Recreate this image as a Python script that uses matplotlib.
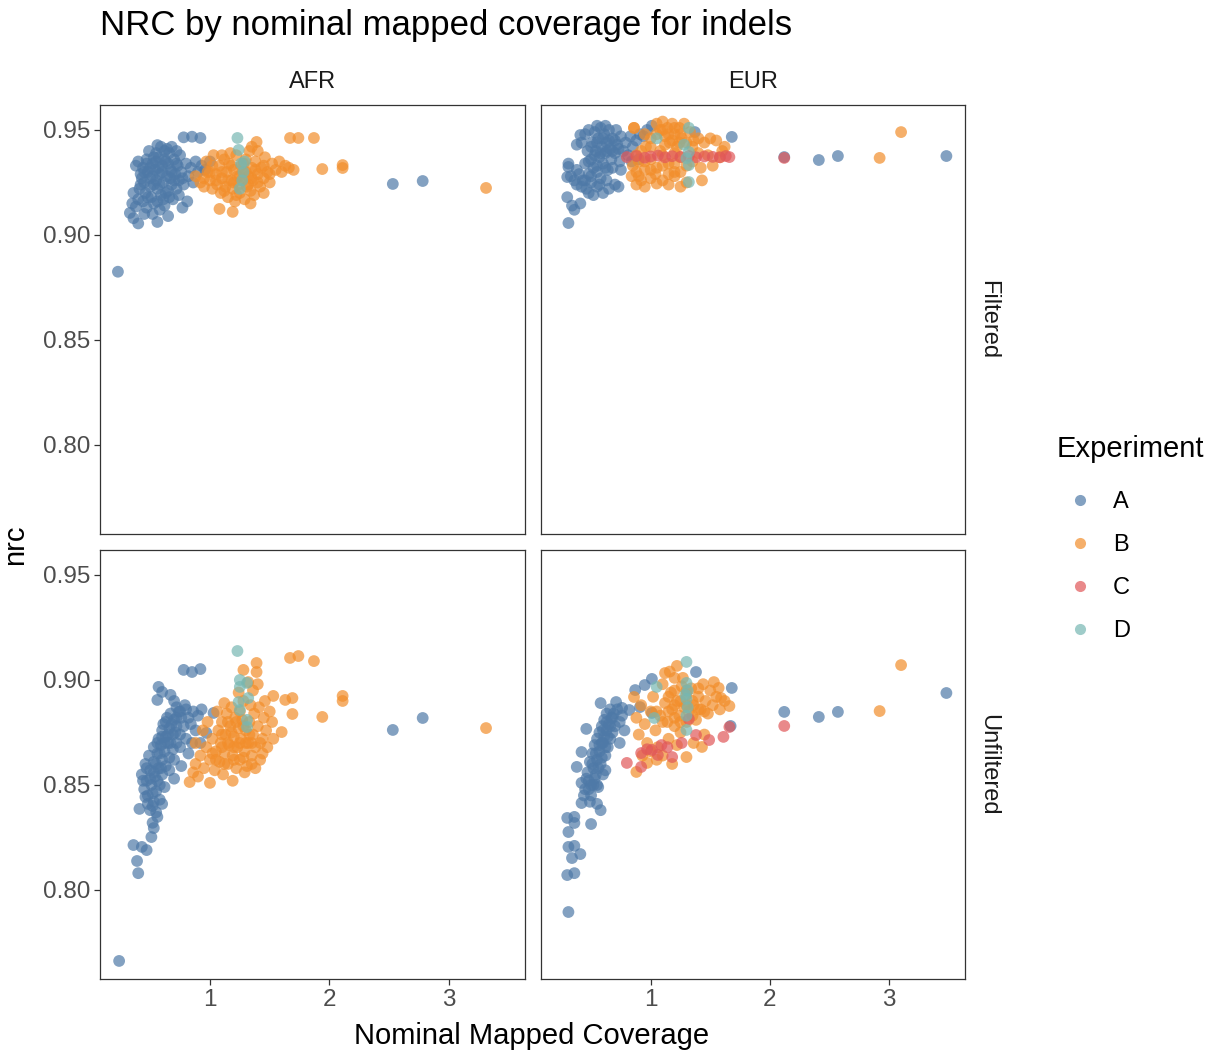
import matplotlib
matplotlib.use("Agg")
import matplotlib.pyplot as plt
from matplotlib.lines import Line2D
import numpy as np

plt.rcParams['font.family'] = ['Liberation Sans', 'DejaVu Sans']

experiments = ["A", "B", "C", "D"]
colors = {"A": "#4E79A7", "B": "#F28E2B", "C": "#E15759", "D": "#76B7B2"}
populations = ["AFR", "EUR"]
filters = ["Filtered", "Unfiltered"]

# (coverage, nrc), per panel and experiment
afr_filt_A = [
    (0.23, 0.8825), (0.33, 0.9105), (0.36, 0.9080), (0.40, 0.9055), (0.38, 0.9135),
    (0.45, 0.9100), (0.56, 0.9062), (0.65, 0.9090), (0.81, 0.9160), (0.78, 0.9465),
    (0.85, 0.9468), (0.92, 0.9462), (0.56, 0.9428), (0.59, 0.9420), (0.64, 0.9410),
    (2.53, 0.9243), (2.78, 0.9257),
    (0.38, 0.9330), (0.40, 0.9350), (0.42, 0.9290), (0.44, 0.9320), (0.45, 0.9250),
    (0.46, 0.9200), (0.47, 0.9360), (0.48, 0.9300), (0.50, 0.9230), (0.50, 0.9270),
    (0.51, 0.9180), (0.52, 0.9340), (0.53, 0.9150), (0.54, 0.9310), (0.55, 0.9260),
    (0.56, 0.9220), (0.57, 0.9370), (0.58, 0.9290), (0.59, 0.9190), (0.60, 0.9330),
    (0.61, 0.9250), (0.62, 0.9140), (0.63, 0.9350), (0.64, 0.9280), (0.65, 0.9210),
    (0.66, 0.9390), (0.67, 0.9310), (0.68, 0.9240), (0.69, 0.9170), (0.70, 0.9360),
    (0.71, 0.9290), (0.72, 0.9220), (0.73, 0.9330), (0.74, 0.9260), (0.75, 0.9380),
    (0.76, 0.9300), (0.78, 0.9240), (0.80, 0.9340), (0.82, 0.9280), (0.84, 0.9320),
    (0.86, 0.9250), (0.88, 0.9350), (0.90, 0.9300), (0.93, 0.9330), (0.96, 0.9310),
    (1.00, 0.9350), (0.47, 0.9130), (0.52, 0.9100), (0.58, 0.9120), (0.44, 0.9160),
    (0.41, 0.9220), (0.43, 0.9270), (0.49, 0.9400), (0.55, 0.9390), (0.62, 0.9400),
    (0.68, 0.9420), (0.72, 0.9400), (0.66, 0.9180), (0.74, 0.9190), (0.77, 0.9130),
    (0.45, 0.9300), (0.50, 0.9320), (0.55, 0.9350), (0.60, 0.9300), (0.65, 0.9340),
    (0.70, 0.9260), (0.53, 0.9240), (0.58, 0.9240), (0.63, 0.9200), (0.68, 0.9300),
    (0.48, 0.9180), (0.56, 0.9160), (0.61, 0.9170), (0.42, 0.9240), (0.40, 0.9170),
    (0.36, 0.9200), (0.35, 0.9150), (0.52, 0.9280), (0.57, 0.9320), (0.62, 0.9360),
    (0.67, 0.9270), (0.72, 0.9340), (0.77, 0.9270), (0.47, 0.9340), (0.53, 0.9370),
]
afr_filt_B = [
    (1.67, 0.9462), (1.74, 0.9462), (1.87, 0.9462), (1.94, 0.9314), (2.11, 0.9333),
    (2.11, 0.9319), (3.31, 0.9224), (1.08, 0.9124), (1.19, 0.9110), (1.39, 0.9443),
    (1.34, 0.9150),
    (0.88, 0.9280), (0.92, 0.9250), (0.95, 0.9230), (0.98, 0.9300), (1.00, 0.9260),
    (1.02, 0.9220), (1.03, 0.9380), (1.05, 0.9290), (1.06, 0.9240), (1.08, 0.9330),
    (1.09, 0.9200), (1.10, 0.9270), (1.12, 0.9360), (1.13, 0.9230), (1.14, 0.9300),
    (1.15, 0.9180), (1.16, 0.9340), (1.18, 0.9260), (1.19, 0.9220), (1.20, 0.9310),
    (1.21, 0.9160), (1.22, 0.9380), (1.23, 0.9280), (1.24, 0.9240), (1.25, 0.9200),
    (1.26, 0.9330), (1.27, 0.9260), (1.28, 0.9300), (1.29, 0.9170), (1.30, 0.9360),
    (1.31, 0.9230), (1.32, 0.9280), (1.33, 0.9400), (1.34, 0.9210), (1.35, 0.9320),
    (1.36, 0.9260), (1.37, 0.9190), (1.38, 0.9350), (1.40, 0.9290), (1.42, 0.9230),
    (1.43, 0.9320), (1.45, 0.9270), (1.46, 0.9370), (1.48, 0.9300), (1.50, 0.9250),
    (1.52, 0.9340), (1.55, 0.9310), (1.58, 0.9350), (1.60, 0.9300), (1.63, 0.9330),
    (1.66, 0.9320), (1.70, 0.9310), (1.35, 0.9420), (1.40, 0.9400), (1.45, 0.9200),
    (1.10, 0.9380), (0.97, 0.9350), (1.02, 0.9330), (1.17, 0.9390),
    (1.05, 0.9260), (1.15, 0.9260), (1.20, 0.9250), (1.25, 0.9280), (1.30, 0.9300),
    (1.35, 0.9270), (1.40, 0.9250), (1.45, 0.9330), (1.10, 0.9300), (1.18, 0.9330),
    (1.28, 0.9340), (1.38, 0.9310), (0.95, 0.9270), (1.00, 0.9300), (1.12, 0.9210),
    (1.22, 0.9190), (1.32, 0.9240), (1.50, 0.9290),
]
afr_filt_D = [
    (1.23, 0.9462), (1.24, 0.9405), (1.26, 0.9340), (1.28, 0.9300), (1.27, 0.9260),
    (1.25, 0.9220), (1.29, 0.9350),
]

eur_filt_A = [
    (0.31, 0.9057), (0.30, 0.9180), (0.36, 0.9120), (0.34, 0.9140), (0.41, 0.9150),
    (0.30, 0.9276), (0.31, 0.9324), (0.31, 0.9340), (0.38, 0.9430), (0.41, 0.9476),
    (1.68, 0.9467), (2.41, 0.9357), (2.57, 0.9376), (3.48, 0.9376), (2.12, 0.9371),
    (1.01, 0.9520), (1.37, 0.9490),
    (0.42, 0.9440), (0.45, 0.9480), (0.47, 0.9400), (0.48, 0.9500), (0.50, 0.9360),
    (0.51, 0.9440), (0.52, 0.9320), (0.53, 0.9490), (0.54, 0.9400), (0.55, 0.9300),
    (0.56, 0.9460), (0.57, 0.9370), (0.58, 0.9510), (0.59, 0.9420), (0.60, 0.9340),
    (0.61, 0.9480), (0.62, 0.9390), (0.63, 0.9440), (0.64, 0.9310), (0.65, 0.9500),
    (0.66, 0.9410), (0.67, 0.9360), (0.68, 0.9460), (0.70, 0.9390), (0.71, 0.9500),
    (0.72, 0.9430), (0.74, 0.9350), (0.75, 0.9470), (0.77, 0.9400), (0.79, 0.9440),
    (0.81, 0.9380), (0.83, 0.9470), (0.85, 0.9420), (0.88, 0.9450), (0.91, 0.9480),
    (0.94, 0.9470), (0.97, 0.9500), (0.45, 0.9340), (0.48, 0.9290), (0.40, 0.9290),
    (0.43, 0.9260), (0.38, 0.9310), (0.36, 0.9260), (0.50, 0.9250), (0.46, 0.9220),
    (0.55, 0.9230), (0.60, 0.9200), (0.65, 0.9220), (0.70, 0.9240), (0.73, 0.9230),
    (0.58, 0.9270), (0.52, 0.9190), (0.75, 0.9310), (0.84, 0.9350), (0.90, 0.9360),
    (0.62, 0.9520), (0.55, 0.9520),
    (0.50, 0.9420), (0.55, 0.9440), (0.60, 0.9460), (0.65, 0.9450), (0.70, 0.9450),
    (0.53, 0.9380), (0.58, 0.9390), (0.63, 0.9400), (0.68, 0.9400), (0.73, 0.9410),
    (0.48, 0.9350), (0.55, 0.9330), (0.62, 0.9320), (0.68, 0.9320), (0.50, 0.9280),
    (0.45, 0.9260), (0.42, 0.9230), (0.48, 0.9200), (0.57, 0.9240), (0.63, 0.9260),
    (0.38, 0.9240), (0.33, 0.9280),
]
eur_filt_B = [
    (1.05, 0.9530), (1.08, 0.9500), (1.10, 0.9540), (1.12, 0.9470), (1.14, 0.9510),
    (1.16, 0.9440), (1.18, 0.9530), (1.20, 0.9480), (1.22, 0.9420), (1.24, 0.9510),
    (1.26, 0.9460), (1.28, 0.9530), (1.30, 0.9440), (1.33, 0.9490), (1.36, 0.9450),
    (1.00, 0.9460), (0.96, 0.9420), (0.92, 0.9400), (0.88, 0.9380), (0.86, 0.9510),
    (0.95, 0.9480),
    (0.85, 0.9330), (0.90, 0.9350), (0.95, 0.9310), (1.00, 0.9360), (1.05, 0.9320),
    (1.10, 0.9380), (1.15, 0.9340), (1.20, 0.9300), (1.25, 0.9370), (1.35, 0.9350),
    (1.40, 0.9390), (1.45, 0.9440), (1.50, 0.9460), (1.55, 0.9450), (1.60, 0.9400),
    (1.48, 0.9380), (1.52, 0.9330), (1.42, 0.9320), (1.62, 0.9420), (1.58, 0.9370),
    (0.88, 0.9300), (1.04, 0.9290), (1.30, 0.9330),
    (0.84, 0.9280), (0.88, 0.9240), (0.92, 0.9260), (0.95, 0.9230), (1.00, 0.9270),
    (1.05, 0.9245), (1.10, 0.9260), (1.15, 0.9240), (1.20, 0.9280), (1.25, 0.9230),
    (1.30, 0.9250), (1.43, 0.9260),
    (3.10, 0.9490), (2.92, 0.9367), (0.86, 0.9510),
    (1.10, 0.9500), (1.15, 0.9480), (1.20, 0.9510), (1.25, 0.9480), (1.05, 0.9480),
    (1.12, 0.9430), (1.18, 0.9450), (1.24, 0.9440), (1.00, 0.9420), (1.08, 0.9400),
    (1.20, 0.9390), (1.35, 0.9420), (1.40, 0.9460), (0.95, 0.9350), (1.10, 0.9330),
    (1.20, 0.9340), (0.90, 0.9280), (1.00, 0.9310), (1.15, 0.9290), (1.25, 0.9300),
]
eur_filt_C = [
    (0.80, 0.9371), (0.88, 0.9376), (0.95, 0.9368), (1.00, 0.9374), (1.06, 0.9378),
    (1.12, 0.9370), (1.18, 0.9375), (1.25, 0.9372), (1.32, 0.9376), (1.38, 0.9370),
    (1.45, 0.9374), (1.52, 0.9372), (1.58, 0.9370), (1.63, 0.9376), (1.66, 0.9371),
    (2.12, 0.9367),
]
eur_filt_D = [
    (1.32, 0.9510), (1.05, 0.9460), (1.32, 0.9333), (1.32, 0.9252), (1.28, 0.9430),
    (1.32, 0.9395), (1.30, 0.9365),
]

afr_unf_A = [
    (0.24, 0.7662), (0.40, 0.8080), (0.39, 0.8138), (0.36, 0.8214), (0.43, 0.8205),
    (0.47, 0.8190), (0.51, 0.8252), (0.53, 0.8295), (0.41, 0.8386), (0.46, 0.8443),
    (0.78, 0.9048), (0.85, 0.9038), (0.92, 0.9052), (0.57, 0.8967), (0.56, 0.8905),
    (0.67, 0.8929), (0.60, 0.8943), (2.53, 0.8762), (2.78, 0.8819),
    (0.50, 0.8380), (0.53, 0.8420), (0.48, 0.8450), (0.55, 0.8470), (0.51, 0.8500),
    (0.58, 0.8500), (0.47, 0.8520), (0.54, 0.8540), (0.60, 0.8550), (0.50, 0.8570),
    (0.57, 0.8580), (0.63, 0.8590), (0.53, 0.8610), (0.60, 0.8620), (0.66, 0.8630),
    (0.49, 0.8640), (0.56, 0.8650), (0.62, 0.8660), (0.69, 0.8670), (0.53, 0.8680),
    (0.59, 0.8690), (0.65, 0.8700), (0.72, 0.8700), (0.57, 0.8720), (0.63, 0.8730),
    (0.69, 0.8740), (0.75, 0.8740), (0.60, 0.8760), (0.66, 0.8770), (0.72, 0.8780),
    (0.78, 0.8780), (0.63, 0.8800), (0.70, 0.8810), (0.76, 0.8820), (0.82, 0.8820),
    (0.67, 0.8840), (0.74, 0.8850), (0.80, 0.8860), (0.86, 0.8850), (0.72, 0.8870),
    (0.79, 0.8880), (0.70, 0.8900), (0.84, 0.8790), (0.88, 0.8760), (0.80, 0.8720),
    (0.75, 0.8680), (0.82, 0.8650), (0.70, 0.8620), (0.66, 0.8570), (0.62, 0.8490),
    (0.58, 0.8430), (0.55, 0.8370), (0.60, 0.8410), (0.45, 0.8480), (0.43, 0.8550),
    (0.46, 0.8600), (0.70, 0.8530), (0.76, 0.8590), (0.85, 0.8700), (0.92, 0.8700),
    (0.97, 0.8748), (1.03, 0.8843), (0.90, 0.8830), (0.93, 0.8860), (0.56, 0.8348),
    (0.52, 0.8320),
    (0.52, 0.8460), (0.56, 0.8520), (0.59, 0.8580), (0.55, 0.8600), (0.58, 0.8650),
    (0.62, 0.8700), (0.65, 0.8740), (0.68, 0.8790), (0.72, 0.8820), (0.75, 0.8850),
    (0.61, 0.8790), (0.64, 0.8820), (0.50, 0.8530), (0.53, 0.8560), (0.56, 0.8700),
    (0.60, 0.8730), (0.67, 0.8700), (0.71, 0.8750), (0.48, 0.8410), (0.52, 0.8400),
    (0.44, 0.8520), (0.47, 0.8580),
]
afr_unf_B = [
    (1.67, 0.9105), (1.74, 0.9114), (1.87, 0.9090), (1.39, 0.9081), (1.39, 0.9038),
    (1.28, 0.9048), (2.11, 0.8924), (2.11, 0.8900), (1.94, 0.8824), (3.31, 0.8771),
    (1.53, 0.8924), (1.69, 0.8914), (1.63, 0.8905), (1.69, 0.8838), (1.60, 0.8752),
    (1.19, 0.8520),
    (0.83, 0.8514), (0.86, 0.8560), (0.88, 0.8600), (0.90, 0.8540), (0.92, 0.8640),
    (0.95, 0.8580), (0.97, 0.8680), (1.00, 0.8510), (1.00, 0.8620), (1.02, 0.8720),
    (1.04, 0.8570), (1.05, 0.8660), (1.07, 0.8760), (1.08, 0.8610), (1.09, 0.8700),
    (1.10, 0.8800), (1.11, 0.8550), (1.12, 0.8650), (1.13, 0.8740), (1.14, 0.8840),
    (1.15, 0.8600), (1.16, 0.8690), (1.17, 0.8780), (1.18, 0.8870), (1.19, 0.8640),
    (1.20, 0.8730), (1.21, 0.8820), (1.22, 0.8580), (1.23, 0.8680), (1.24, 0.8770),
    (1.25, 0.8620), (1.26, 0.8720), (1.27, 0.8810), (1.28, 0.8900), (1.29, 0.8660),
    (1.30, 0.8760), (1.31, 0.8590), (1.32, 0.8700), (1.33, 0.8800), (1.34, 0.8880),
    (1.35, 0.8640), (1.36, 0.8740), (1.37, 0.8840), (1.38, 0.8680), (1.40, 0.8780),
    (1.41, 0.8870), (1.42, 0.8620), (1.44, 0.8720), (1.45, 0.8820), (1.47, 0.8760),
    (1.48, 0.8680), (1.50, 0.8850), (1.52, 0.8800), (1.53, 0.8720), (1.46, 0.8900),
    (1.36, 0.8950), (1.32, 0.8990), (1.40, 0.8980), (1.24, 0.8940), (1.12, 0.8890),
    (1.06, 0.8850), (0.98, 0.8800), (0.94, 0.8760), (0.88, 0.8700), (1.44, 0.8650),
    (1.38, 0.8580), (1.29, 0.8560),
    (1.10, 0.8680), (1.15, 0.8700), (1.20, 0.8680), (1.25, 0.8700), (1.30, 0.8700),
    (1.35, 0.8700), (1.18, 0.8750), (1.22, 0.8800), (1.28, 0.8780), (1.33, 0.8740),
    (1.05, 0.8620), (1.12, 0.8600), (1.20, 0.8620), (1.28, 0.8630), (1.35, 0.8600),
    (1.42, 0.8700), (1.15, 0.8800), (1.25, 0.8850), (1.10, 0.8740), (1.02, 0.8650),
]
afr_unf_D = [
    (1.23, 0.9138), (1.25, 0.9000), (1.25, 0.8967), (1.31, 0.8986), (1.24, 0.8895),
    (1.32, 0.8914), (1.25, 0.8857), (1.31, 0.8810), (1.31, 0.8776),
]

eur_unf_A = [
    (0.31, 0.7895), (0.30, 0.8071), (0.36, 0.8080), (0.34, 0.8152), (0.41, 0.8171),
    (0.31, 0.8205), (0.36, 0.8210), (0.31, 0.8276), (0.36, 0.8319), (0.30, 0.8343),
    (0.36, 0.8348), (0.50, 0.8314), (0.42, 0.8414), (0.38, 0.8586), (0.42, 0.8657),
    (0.46, 0.8767), (0.58, 0.8890), (0.71, 0.8895), (0.76, 0.8867), (0.82, 0.8857),
    (0.87, 0.8952), (0.95, 0.8976), (1.01, 0.9005), (1.38, 0.9038), (1.68, 0.8962),
    (1.67, 0.8781), (2.12, 0.8848), (2.41, 0.8824), (2.57, 0.8848), (3.48, 0.8938),
    (0.91, 0.8871), (1.01, 0.8843), (0.78, 0.8760), (0.74, 0.8700),
    (0.45, 0.8480), (0.48, 0.8520), (0.50, 0.8450), (0.47, 0.8560), (0.52, 0.8580),
    (0.49, 0.8610), (0.55, 0.8620), (0.51, 0.8650), (0.57, 0.8660), (0.53, 0.8690),
    (0.59, 0.8700), (0.55, 0.8720), (0.61, 0.8730), (0.57, 0.8750), (0.63, 0.8760),
    (0.59, 0.8780), (0.65, 0.8790), (0.61, 0.8810), (0.67, 0.8820), (0.63, 0.8840),
    (0.69, 0.8840), (0.66, 0.8860), (0.72, 0.8860), (0.60, 0.8700), (0.64, 0.8680),
    (0.58, 0.8600), (0.62, 0.8640), (0.54, 0.8550), (0.52, 0.8500), (0.60, 0.8550),
    (0.56, 0.8490), (0.66, 0.8720), (0.70, 0.8780), (0.74, 0.8800), (0.76, 0.8830),
    (0.68, 0.8750), (0.62, 0.8570), (0.49, 0.8420), (0.44, 0.8450), (0.42, 0.8510),
    (0.55, 0.8410), (0.58, 0.8380),
    (0.50, 0.8500), (0.53, 0.8530), (0.56, 0.8580), (0.59, 0.8630), (0.62, 0.8680),
    (0.64, 0.8730), (0.66, 0.8780), (0.68, 0.8820), (0.57, 0.8690), (0.60, 0.8760),
    (0.63, 0.8800), (0.54, 0.8650), (0.51, 0.8600), (0.48, 0.8480), (0.46, 0.8530),
    (0.55, 0.8500),
]
eur_unf_B = [
    (0.86, 0.8919), (0.88, 0.8820), (0.90, 0.8740), (0.92, 0.8880), (0.95, 0.8790),
    (0.97, 0.8700), (1.00, 0.8850), (1.02, 0.8920), (1.04, 0.8760), (1.06, 0.8680),
    (1.08, 0.8830), (1.10, 0.8980), (1.12, 0.8890), (1.12, 0.9033), (1.14, 0.8800),
    (1.15, 0.8720), (1.17, 0.8940), (1.18, 0.8860), (1.20, 0.8780), (1.20, 0.9010),
    (1.22, 0.8900), (1.24, 0.8830), (1.25, 0.8750), (1.26, 0.8970), (1.28, 0.8870),
    (1.30, 0.8800), (1.30, 0.8930), (1.32, 0.8850), (1.34, 0.8960), (1.36, 0.8880),
    (1.38, 0.8810), (1.40, 0.8920), (1.42, 0.8860), (1.44, 0.8980), (1.46, 0.8900),
    (1.48, 0.8840), (1.50, 0.8950), (1.52, 0.8880), (1.55, 0.8920), (1.58, 0.8860),
    (1.62, 0.8900), (1.66, 0.8876), (1.59, 0.8914), (1.53, 0.8990), (1.57, 0.8962),
    (1.22, 0.9067), (1.16, 0.9040), (1.27, 0.9010), (1.00, 0.8660), (1.10, 0.8640),
    (1.22, 0.8690), (1.36, 0.8700), (1.45, 0.8740),
    (0.88, 0.8562), (0.97, 0.8605), (1.18, 0.8600), (1.30, 0.8633), (1.43, 0.8681),
    (0.93, 0.8640), (1.05, 0.8620),
    (3.10, 0.9071), (2.92, 0.8852),
    (1.15, 0.8850), (1.20, 0.8880), (1.25, 0.8900), (1.30, 0.8880), (1.35, 0.8900),
    (1.40, 0.8860), (1.20, 0.8820), (1.25, 0.8800), (1.35, 0.8830), (1.45, 0.8850),
    (1.10, 0.8800), (1.05, 0.8850), (1.15, 0.8920), (1.30, 0.8950), (1.40, 0.8960),
    (1.20, 0.8950),
]
eur_unf_C = [
    (2.12, 0.8781), (0.80, 0.8605), (1.66, 0.8776), (1.61, 0.8729), (1.49, 0.8714),
    (1.38, 0.8738), (1.32, 0.8814), (0.92, 0.8652), (1.01, 0.8667), (1.09, 0.8690),
    (1.18, 0.8633), (1.26, 0.8700), (1.06, 0.8643), (0.92, 0.8586), (0.97, 0.8670),
    (1.14, 0.8680),
]
eur_unf_D = [
    (1.30, 0.9086), (1.05, 0.8967), (1.30, 0.8986), (1.31, 0.8950), (1.30, 0.8910),
    (1.31, 0.8870), (1.30, 0.8830), (1.30, 0.8762), (1.03, 0.8819), (1.29, 0.8930),
]

panels = {
    ("Filtered", "AFR"): {"A": afr_filt_A, "B": afr_filt_B, "D": afr_filt_D},
    ("Filtered", "EUR"): {"A": eur_filt_A, "B": eur_filt_B, "C": eur_filt_C, "D": eur_filt_D},
    ("Unfiltered", "AFR"): {"A": afr_unf_A, "B": afr_unf_B, "D": afr_unf_D},
    ("Unfiltered", "EUR"): {"A": eur_unf_A, "B": eur_unf_B, "C": eur_unf_C, "D": eur_unf_D},
}

W, H = 1225, 1057
fig = plt.figure(figsize=(W / 100, H / 100), dpi=100)

# panel boxes in pixels: left, top, right, bottom
col_px = [(100, 525), (541, 965)]
row_px = [(105, 534), (550, 979)]

xlim = (0.08, 3.636)
ylim = (0.7576, 0.9619)
tick_color = "#4D4D4D"
frame_color = "#333333"

for r, filt in enumerate(filters):
    for c, pop in enumerate(populations):
        l, rr = col_px[c]
        t, b = row_px[r]
        ax = fig.add_axes([l / W, 1 - b / H, (rr - l) / W, (b - t) / H])
        for exp in experiments:
            pts = panels[(filt, pop)].get(exp)
            if not pts:
                continue
            arr = np.array(pts)
            ax.scatter(arr[:, 0], arr[:, 1], s=72, color=colors[exp], alpha=0.7,
                       edgecolors="none", zorder=2)
        ax.set_xlim(xlim)
        ax.set_ylim(ylim)
        ax.set_xticks([1, 2, 3])
        ax.set_yticks([0.80, 0.85, 0.90, 0.95])
        ax.set_yticklabels(["0.80", "0.85", "0.90", "0.95"])
        for sp in ax.spines.values():
            sp.set_color(frame_color)
            sp.set_linewidth(0.9)
        ax.tick_params(direction="out", length=4, width=0.9, color=frame_color,
                       labelcolor=tick_color, labelsize=17.5, pad=3)
        if c == 1:
            ax.set_yticklabels([])
            ax.tick_params(axis="y", length=0)
        if r == 0:
            ax.set_xticklabels([])
            ax.tick_params(axis="x", length=0)
            fig.text((l + rr) / 2 / W, 1 - 82 / H, pop, ha="center", va="center",
                     fontsize=17, color="#1A1A1A")
        if c == 1:
            fig.text(988 / W, 1 - (t + b) / 2 / H, filt, ha="center", va="center",
                     rotation=-90, fontsize=17, color="#1A1A1A")

fig.text(100 / W, 1 - 25 / H, "NRC by nominal mapped coverage for indels",
         ha="left", va="center", fontsize=25)
fig.text(532 / W, 1 - 1036 / H, "Nominal Mapped Coverage", ha="center", va="center",
         fontsize=21)
fig.text(15 / W, 1 - 545 / H, "nrc", ha="center", va="center", rotation=90, fontsize=21)

handles = [Line2D([], [], marker="o", linestyle="none", markersize=8,
                  markerfacecolor=colors[e], markeredgecolor="none", alpha=0.7)
           for e in experiments]
leg = fig.legend(handles, experiments, title="Experiment", loc="upper left",
                 bbox_to_anchor=(1047 / W, 1 - 426 / H), frameon=False,
                 fontsize=17, title_fontsize=21, labelspacing=0.89,
                 handletextpad=0.4, borderaxespad=0)
leg._legend_box.align = "left"
leg._legend_box.sep = 20

fig.savefig("out.png", dpi=100)
